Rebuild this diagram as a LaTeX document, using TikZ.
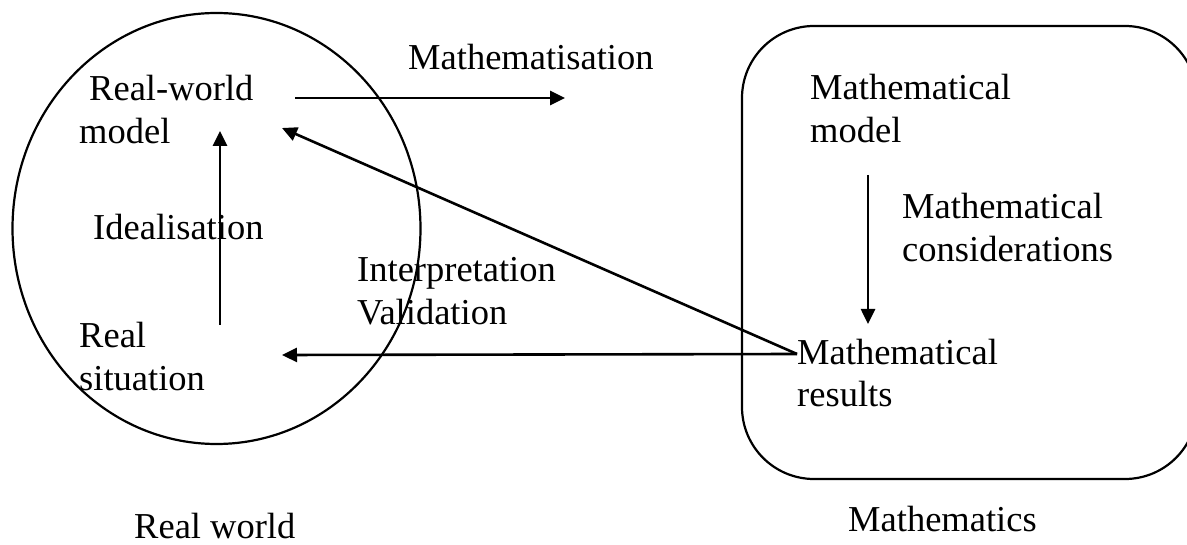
\documentclass[tikz,border=0pt]{standalone}
\usepackage{fontspec}
\setmainfont{Liberation Serif}
\usetikzlibrary{arrows.meta}
\begin{document}
\begin{tikzpicture}[x=1pt,y=-1pt,
  lbl/.style={inner sep=0pt,anchor=base west,align=left,font=\fontsize{36.5}{43}\selectfont},
  arr/.style={line width=2.6pt,-{Triangle[length=15pt,width=14pt]}},
  frame/.style={line width=2.2pt}]
\useasboundingbox (0,0) rectangle (1187,545);
\clip (0,0) rectangle (1187,545);
% regions
\draw[frame] (216.5,228.5) ellipse [x radius=204, y radius=215.5];
\draw[frame,rounded corners=72pt] (742,26) rectangle (1197,479);
% labels (anchor = baseline of the last line)
\node[lbl] (rwm) at (79,144) {\hspace*{10pt}Real-world\\model};
\node[lbl] (ideal) at (93,240) {Idealisation};
\node[lbl] (rs) at (79,391) {Real\\situation};
\node[lbl] (interp) at (357,325) {Interpretation\\Validation};
\node[lbl] (mathz) at (408,70) {Mathematisation};
\node[lbl] (mm) at (810,143) {Mathematical\\model};
\node[lbl] (mc) at (902,262) {Mathematical\\considerations};
\node[lbl] (mres) at (797,407) {Mathematical\\results};
\node[lbl] (rw) at (134,538) {Real world};
\node[lbl] (maths) at (848,531) {Mathematics};
% connector ends
\coordinate (src) at (797,354);
\coordinate (rwmR) at (295,98);
\coordinate (mmL) at (565,98);
\coordinate (rsT) at (220,325);
\coordinate (rwmB) at (220,131);
\coordinate (rwmD) at (282,128);
\coordinate (rsR) at (282,355);
\coordinate (mmB) at (868,175);
\coordinate (mresT) at (868,324);
% connectors
\draw[arr] (rwmR) -- (mmL);
\draw[arr] (rsT) -- (rwmB);
\draw[arr] (src) -- (rwmD);
\draw[arr] (src) -- (rsR);
\draw[arr] (mmB) -- (mresT);
\end{tikzpicture}
\end{document}
